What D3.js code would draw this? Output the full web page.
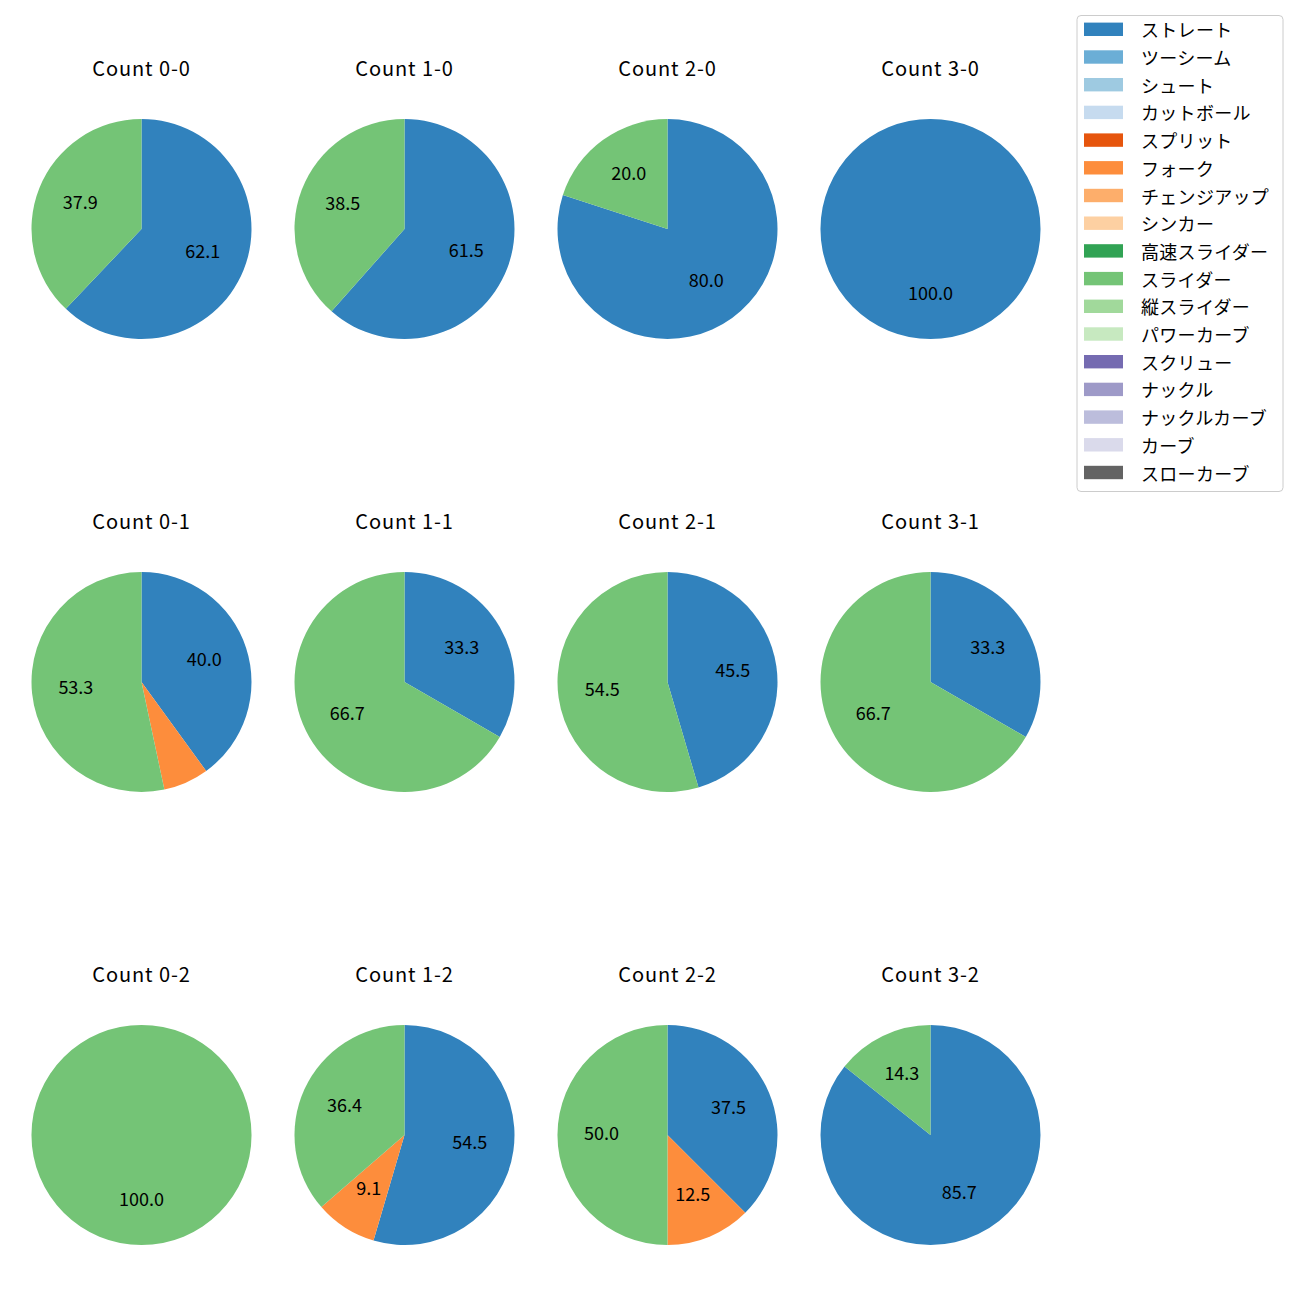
<!DOCTYPE html>
<html>
<head>
<meta charset="utf-8">
<script src="https://cdn.jsdelivr.net/npm/d3@7"></script>
<style>
  html, body { margin: 0; padding: 0; background: #fff; }
  svg { display: block; font-family: "Noto Sans CJK JP", "Noto Sans", sans-serif; }
</style>
</head>
<body>
<svg id="chart" width="1300" height="1300"></svg>
<script>
// ---- data ----
const pitchTypes = ["ストレート","ツーシーム","シュート","カットボール","スプリット","フォーク","チェンジアップ","シンカー","高速スライダー","スライダー","縦スライダー","パワーカーブ","スクリュー","ナックル","ナックルカーブ","カーブ","スローカーブ"];
const pitchColors = ["#3182bd","#6baed6","#9ecae1","#c6dbef","#e6550d","#fd8d3c","#fdae6b","#fdd0a2","#31a354","#74c476","#a1d99b","#c7e9c0","#756bb1","#9e9ac8","#bcbddc","#dadaeb","#636363"];
const countTitles = ["Count 0-0","Count 1-0","Count 2-0","Count 3-0","Count 0-1","Count 1-1","Count 2-1","Count 3-1","Count 0-2","Count 1-2","Count 2-2","Count 3-2"];
// pitches per count for the types that appear: ストレート, フォーク, スライダー
const shownTypes = ["ストレート","フォーク","スライダー"];
const straightCounts = [18, 8, 4, 1, 6, 1, 5, 1, 0, 6, 3, 6];
const forkCounts     = [ 0, 0, 0, 0, 1, 0, 0, 0, 0, 1, 1, 0];
const sliderCounts   = [11, 5, 1, 0, 8, 2, 6, 2, 1, 4, 4, 1];
const labelMinPct = 7;

// ---- layout ----
const svg = d3.select("#chart");
const colX = [141.5, 404.5, 667.5, 930.5];
const rowY = [229, 682, 1135];
const radius = 110;

const color = d3.scaleOrdinal().domain(pitchTypes).range(pitchColors);
const pie = d3.pie().sort(null).value(d => d.value).startAngle(0).endAngle(2 * Math.PI);
const arc = d3.arc().innerRadius(0).outerRadius(radius);
const labelArc = d3.arc().innerRadius(radius * 0.6).outerRadius(radius * 0.6);

countTitles.forEach((title, i) => {
  const cx = colX[i % 4], cy = rowY[Math.floor(i / 4)];
  const values = [straightCounts[i], forkCounts[i], sliderCounts[i]];
  const total = d3.sum(values);
  const data = shownTypes.map((t, k) => ({type: t, value: values[k]})).filter(d => d.value > 0);
  const g = svg.append("g").attr("transform", `translate(${cx},${cy})`);
  const arcs = pie(data);
  g.selectAll("path").data(arcs).join("path")
    .attr("d", arc)
    .attr("fill", d => color(d.data.type));
  g.selectAll("text.lbl").data(arcs.filter(d => d.data.value / total * 100 > labelMinPct)).join("text")
    .attr("class", "lbl")
    .attr("transform", d => {
      const [x, y] = data.length === 1 ? [0, radius * 0.6] : labelArc.centroid(d);
      return `translate(${x},${y})`;
    })
    .attr("text-anchor", "middle")
    .attr("dy", "0.26em")
    .attr("font-size", 18)
    .attr("fill", "#000")
    .text(d => (d.data.value / total * 100).toFixed(1));
  svg.append("text")
    .attr("x", cx).attr("y", cy - 153)
    .attr("text-anchor", "middle")
    .attr("font-size", 20)
    .attr("letter-spacing", "0.9px")
    .attr("fill", "#000")
    .text(title);
});

// ---- legend ----
const lg = svg.append("g");
lg.append("rect")
  .attr("x", 1077).attr("y", 15.5).attr("width", 206).attr("height", 476)
  .attr("rx", 4).attr("ry", 4)
  .attr("fill", "#fff").attr("stroke", "#cccccc").attr("stroke-width", 1);
const rowH = 27.7;
const items = lg.selectAll("g.item").data(pitchTypes).join("g")
  .attr("class", "item")
  .attr("transform", (d, i) => `translate(0,${29.3 + i * rowH})`);
items.append("rect")
  .attr("x", 1084).attr("y", -6.7).attr("width", 39).attr("height", 13.4)
  .attr("fill", d => color(d));
items.append("text")
  .attr("x", 1141).attr("y", 0)
  .attr("dominant-baseline", "central")
  .attr("font-size", 18)
  .attr("letter-spacing", "0.3px")
  .attr("fill", "#000")
  .text(d => d);
</script>
</body>
</html>
